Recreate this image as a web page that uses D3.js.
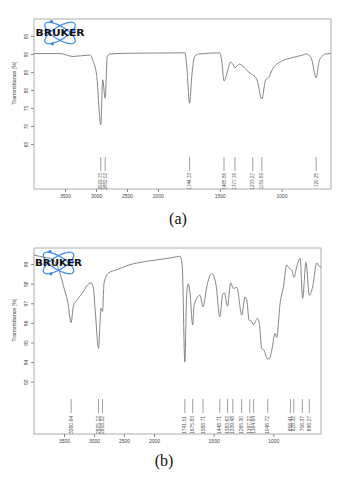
<!DOCTYPE html>
<html><head><meta charset="utf-8">
<script src="https://cdn.jsdelivr.net/npm/d3@7"></script>
<style>body{margin:0;background:#fff}svg{display:block}</style>
</head><body>
<script>
// ---- data ----
const xTicks = [3500, 3000, 2500, 2000, 1500, 1000];
const aYTicks = [95, 90, 85, 80, 75, 70, 65];
const bYTicks = [99, 98, 97, 96, 95, 94, 93];

const aWave = [4000,3581,3371,3097,3044,2989,2922.7,2892,2852,2818,2774,2452,1782,1766,1744.3,1726,1702,1661,1500,1484,1465.9,1435,1414,1395,1377.8,1339,1285,1244,1233.3,1199,1159.7,1129,1105,1070,990,909,828,801,761,720.3,694,640,600];
const aTrans = [90.1,90.1,89.3,89.7,87.9,84.0,70.3,82.8,77.7,89.3,90.0,90.2,90.3,86.0,76.3,84.0,89.4,90.0,90.3,88.0,82.5,85.5,87.7,87.2,86.2,87.2,85.6,84.4,84.2,82.8,77.5,82.8,83.4,86.0,88.1,89.0,89.7,90.0,88.9,83.4,88.3,90.0,90.1];
const aPeaks = [2922.70, 2852.02, 1744.33, 1465.86, 1377.76, 1233.27, 1159.69, 720.25];
const aPeakLabels = ["2922.70","2852.02","1744.33","1465.86","1377.76","1233.27","1159.69","720.25"];

const bWave = [4000,3817,3733,3595,3483,3438,3381,3345,3262,3178,3122,3050,3012,2972,2925,2900,2883,2858,2833,2762,2622,2400,2122,1922,1810,1782,1763,1741.5,1726,1712,1698,1675.8,1664,1614,1588.7,1558,1516,1480,1448.7,1424,1410,1383.6,1357,1335,1306,1264,1237,1222,1203,1180,1167,1133,1117,1097,1077,1050,1033,1013,985,971,943,915,887,865,845,826,804,775,754,726,698,670,636,614,600];
const bTrans = [99.46,99.34,99.3,98.78,97.59,97.08,96.01,96.83,97.25,97.59,97.88,98.05,97.81,96.31,94.7,95.98,96.75,96.58,98.03,98.54,98.71,98.97,99.14,99.26,99.37,99.4,98.88,94.0,97.5,98.0,97.5,95.89,96.9,97.41,96.82,97.84,98.52,97.93,96.31,97.46,97.53,96.85,98.05,97.76,97.81,96.4,97.32,97.15,96.14,96.06,95.89,96.23,95.97,94.7,94.6,94.16,94.16,94.6,95.46,95.26,96.99,97.84,98.95,98.78,98.69,98.32,98.86,99.29,97.25,99.09,97.41,97.84,99.06,98.88,98.85];
const bPeaks = [3380.64, 2925.12, 2858.32, 1741.51, 1675.83, 1588.71, 1448.71, 1383.62, 1339.48, 1265.30, 1197.22, 1164.84, 1046.72, 856.41, 828.32, 756.37, 698.27];
const bPeakLabels = ["3380.64","2925.12","2858.32","1741.51","1675.83","1588.71","1448.71","1383.62","1339.48","1265.30","1197.22","1164.84","1046.72","856.41","828.32","756.37","698.27"];

const W = 357, H = 481;
const svg = d3.select("body").append("svg").attr("width", W).attr("height", H);

const panels = [
  {wave: aWave, trans: aTrans, peaks: aPeaks, peakLabels: aPeakLabels, yTicks: aYTicks,
   x0: 34, xb: 158, x1: 331, top: 19, bottom: 189, yDom: [52.5, 99.7],
   tickTop: 157, tickBot: 171, labTop: 173, peakFont: 4.6, titleY: 83,
   logo: {cx: 60, cy: 33, tx0: 35.5, tx1: 84.5}, cap: "(a)", capX: 178, capY: 224},
  {wave: bWave, trans: bTrans, peaks: bPeaks, peakLabels: bPeakLabels, yTicks: bYTicks,
   x0: 34, xb: 154, x1: 321, top: 248, bottom: 434, yDom: [90.33, 99.82],
   tickTop: 399, tickBot: 413, labTop: 416, peakFont: 5, titleY: 320,
   logo: {cx: 58.5, cy: 263, tx0: 35, tx1: 82}, cap: "(b)", capX: 164, capY: 466}
];

panels.forEach(p => {
  const g = svg.append("g");
  const x = d3.scaleLinear().domain([4000, 2000, 600]).range([p.x0, p.xb, p.x1]);
  const y = d3.scaleLinear().domain(p.yDom).range([p.bottom, p.top]);

  // frame
  g.append("rect").attr("x", p.x0).attr("y", p.top)
    .attr("width", p.x1 - p.x0).attr("height", p.bottom - p.top)
    .attr("fill", "none").attr("stroke", "#9a9a9a").attr("stroke-width", 0.8);

  // x axis
  const xa = g.append("g").attr("transform", `translate(0,${p.bottom})`)
    .call(d3.axisBottom(x).tickValues(xTicks).tickFormat(d3.format("d"))
      .tickSize(3).tickSizeOuter(0).tickPadding(2));
  xa.select(".domain").remove();
  xa.selectAll("line").attr("stroke", "#888");
  xa.selectAll("text").attr("font-family", "Liberation Sans, Arial, sans-serif")
    .attr("font-size", 5).attr("fill", "#444");

  // y axis
  const ya = g.append("g").attr("transform", `translate(${p.x0},0)`)
    .call(d3.axisLeft(y).tickValues(p.yTicks).tickFormat(d3.format("d"))
      .tickSize(3).tickSizeOuter(0).tickPadding(0));
  ya.select(".domain").remove();
  ya.selectAll("line").attr("stroke", "#888");
  ya.selectAll("text").attr("font-family", "Liberation Sans, Arial, sans-serif")
    .attr("font-size", 5).attr("fill", "#444")
    .attr("text-anchor", "middle").attr("x", 0).attr("y", 0).attr("dy", "0.35em")
    .attr("transform", "translate(-8,0) rotate(-90)");

  // y title
  g.append("text").attr("transform", `translate(16,${p.titleY}) rotate(-90)`)
    .attr("text-anchor", "middle").attr("font-family", "Liberation Sans, Arial, sans-serif")
    .attr("font-size", 5.4).attr("fill", "#444").text("Transmittance [%]");

  // curve
  const pts = p.wave.map((w, i) => [w, p.trans[i]]);
  g.append("path").datum(pts)
    .attr("fill", "none").attr("stroke", "#777").attr("stroke-width", 0.9)
    .attr("d", d3.line().x(d => x(d[0])).y(d => y(d[1])).curve(d3.curveMonotoneX));

  // peak ticks + labels
  p.peaks.forEach((w, i) => {
    g.append("line").attr("x1", x(w)).attr("x2", x(w))
      .attr("y1", p.tickTop).attr("y2", p.tickBot)
      .attr("stroke", "#777").attr("stroke-width", 0.7);
    g.append("text").attr("transform", `translate(${x(w) + 1.6},${p.labTop}) rotate(-90)`)
      .attr("text-anchor", "end").attr("font-family", "Liberation Sans, Arial, sans-serif")
      .attr("font-size", p.peakFont).attr("fill", "#555").text(p.peakLabels[i]);
  });

  // logo
  const L = g.append("g").attr("transform", `translate(${p.logo.cx},${p.logo.cy})`);
  [-32, 32].forEach(a => {
    L.append("ellipse").attr("rx", 17.5).attr("ry", 6.5)
      .attr("transform", `rotate(${a})`)
      .attr("fill", "none").attr("stroke", "#3d8ef0").attr("stroke-width", 1.3);
  });
  [[-8.5, -11.5], [-7.5, 11], [14.5, -1]].forEach(d => {
    L.append("circle").attr("cx", d[0]).attr("cy", d[1]).attr("r", 1.4).attr("fill", "#2f7fe6");
  });
  g.append("text").attr("x", p.logo.tx0).attr("y", p.logo.cy + 2.8)
    .attr("textLength", p.logo.tx1 - p.logo.tx0).attr("lengthAdjust", "spacingAndGlyphs")
    .attr("font-family", "DejaVu Sans, Arial, sans-serif").attr("font-weight", "bold")
    .attr("font-size", 8).attr("fill", "#111").text("BRUKER");

  // caption
  svg.append("text").attr("x", p.capX).attr("y", p.capY).attr("text-anchor", "middle")
    .attr("font-family", "Liberation Serif, Times New Roman, serif")
    .attr("font-size", 16).attr("fill", "#111").text(p.cap);
});
</script>
</body></html>
